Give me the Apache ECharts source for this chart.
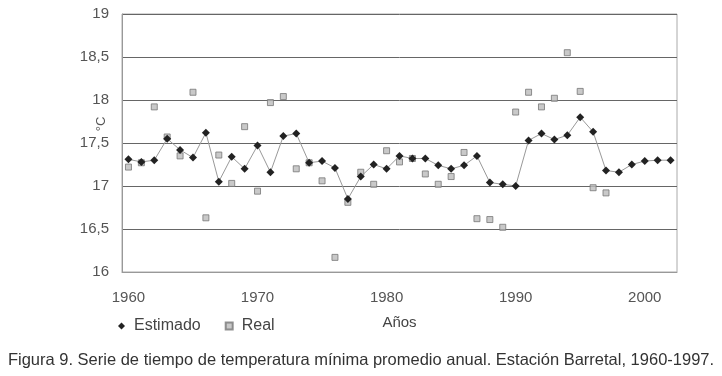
<!DOCTYPE html>
<html>
<head>
<meta charset="utf-8">
<script src="https://cdn.jsdelivr.net/npm/echarts@6/dist/echarts.min.js"></script>
<style>
html,body{margin:0;padding:0;background:#fff;}
#c{width:722px;height:376px;}
</style>
</head>
<body>
<div id="c"></div>
<script>
const years = [];
for (let y = 1960; y <= 2002; y++) years.push(String(y));

const estimado = [17.31,17.28,17.30,17.55,17.42,17.33,17.62,17.05,17.34,17.20,
  17.47,17.16,17.58,17.61,17.27,17.29,17.21,16.85,17.11,17.25,
  17.20,17.35,17.32,17.32,17.24,17.20,17.24,17.35,17.04,17.02,
  17.00,17.53,17.61,17.54,17.59,17.80,17.63,17.18,17.16,17.25,
  17.29,17.30,17.30];

const real = [17.22,17.27,17.92,17.57,17.35,18.09,16.63,17.36,17.03,17.69,
  16.94,17.97,18.04,17.20,17.27,17.06,16.17,16.81,17.16,17.02,
  17.41,17.28,17.32,17.14,17.02,17.11,17.39,16.62,16.61,16.52,
  17.86,18.09,17.92,18.02,18.55,18.10,16.98,16.92];

const yTicks = [16,16.5,17,17.5,18,18.5,19];
const xLabelYears = ['1960','1970','1980','1990','2000'];
const caption = 'Figura 9. Serie de tiempo de temperatura mínima promedio anual. Estación Barretal, 1960-1997.';

const chart = echarts.init(document.getElementById('c'), null, {renderer:'canvas'});
const font = 'Liberation Sans, Arial, sans-serif';
chart.setOption({
  animation:false,
  backgroundColor:'#fff',
  textStyle:{fontFamily:font},
  title:{
    text:caption,
    left:'center', top:347,
    textStyle:{fontFamily:font,fontSize:16.5,fontWeight:'normal',color:'#333'}
  },
  graphic:[{
    type:'text', x:101, y:124, rotation:Math.PI/2,
    style:{text:'°C', textAlign:'center', textVerticalAlign:'middle',
      font:'13px Liberation Sans, Arial, sans-serif', fill:'#555'}
  }],
  legend:{
    left:113, top:313,
    itemGap:24, itemWidth:7, itemHeight:7,
    textStyle:{fontFamily:font,fontSize:16,color:'#444',padding:[0,0,0,4]},
    data:[{name:'Estimado',icon:'diamond'},{name:'Real',icon:'rect'}]
  },
  grid:{left:122,right:45,top:14,bottom:104,show:true,borderColor:'#aaa',borderWidth:1},
  xAxis:{
    type:'category',
    data:years,
    boundaryGap:true,
    name:'Años',
    nameLocation:'middle',
    nameGap:43,
    nameTextStyle:{fontFamily:font,fontSize:15,color:'#444'},
    axisLine:{lineStyle:{color:'#999'}},
    axisTick:{show:false},
    axisLabel:{
      interval:function(i,v){return xLabelYears.indexOf(v)>=0;},
      margin:18,
      fontFamily:font,fontSize:15,color:'#555'
    }
  },
  yAxis:{
    type:'value',
    min:16,max:19,interval:0.5,
    axisLine:{show:true,lineStyle:{color:'#999'}},
    axisTick:{show:false},
    axisLabel:{
      margin:13,fontFamily:font,fontSize:15,color:'#555',
      formatter:function(v){return yTicks.indexOf(v)>=0?String(v).replace('.',','):'';}
    },
    splitLine:{lineStyle:{color:'#666',width:1}}
  },
  series:[
    {
      name:'Estimado',
      type:'line',
      data:estimado,
      symbol:'diamond',
      symbolSize:8,
      itemStyle:{color:'#222'},
      lineStyle:{color:'#999',width:1}
    },
    {
      name:'Real',
      type:'scatter',
      data:real,
      symbol:'rect',
      symbolSize:6,
      itemStyle:{color:'#bbb',borderColor:'#777',borderWidth:1}
    }
  ]
});
</script>
</body>
</html>
